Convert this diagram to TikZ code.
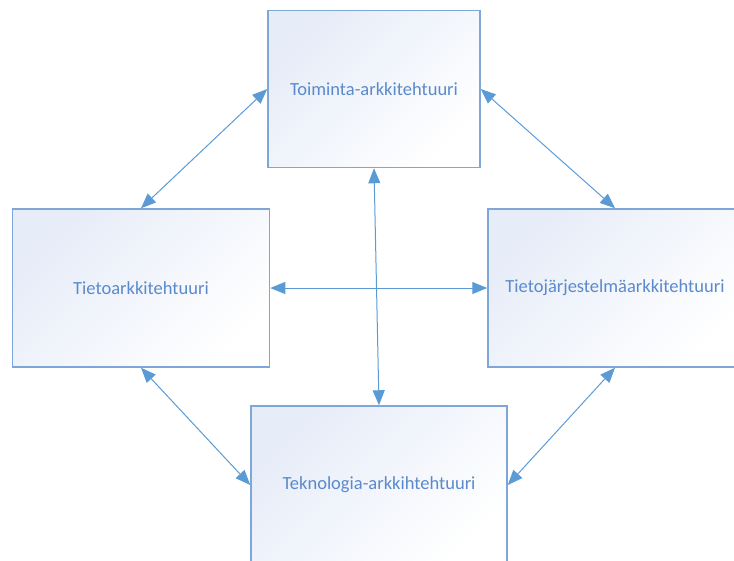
\documentclass[tikz,border=0pt]{standalone}
\usepackage{fontspec}
\setmainfont{Carlito}
\usetikzlibrary{arrows.meta}
\definecolor{boxline}{HTML}{7EA7D8}
\definecolor{boxfill}{HTML}{E6ECF8}
\definecolor{boxmid}{HTML}{F6F8FC}
\definecolor{arrowc}{HTML}{5B9BD5}
\definecolor{textc}{HTML}{5A8ACB}
\tikzset{
  archbox/.style={draw=boxline, line width=1.5pt, rectangle, inner sep=0pt,
    shading=axis, top color=boxfill, middle color=boxmid, bottom color=white, shading angle=45,
    font=\fontsize{18.5}{22}\selectfont, text=textc},
  link/.style={draw=arrowc, line width=1pt,
    {Triangle[length=15pt,width=12pt]}-{Triangle[length=15pt,width=12pt]}}
}
\begin{document}
\begin{tikzpicture}[x=1pt,y=-1pt]
\useasboundingbox (0,0) rectangle (734,560);
\clip (0,0) rectangle (734,560);
\node[archbox, minimum width=212pt, minimum height=157pt] (top) at (374,89) {Toiminta-arkkitehtuuri};
\node[archbox, minimum width=257pt, minimum height=158pt] (left) at (141,288) {Tietoarkkitehtuuri};
\node[archbox, minimum width=254pt, minimum height=158pt] (right) at (615,288) {Tietojärjestelmäarkkitehtuuri};
\node[archbox, minimum width=256pt, minimum height=158pt] (bottom) at (379,485) {Teknologia-arkkihtehtuuri};
\draw[link] (top.west) -- (left.north);
\draw[link] (top.east) -- (right.north);
\draw[link] (top.south) -- (bottom.north);
\draw[link] (left.east) -- (right.west);
\draw[link] (left.south) -- (bottom.west);
\draw[link] (right.south) -- (bottom.east);
\end{tikzpicture}
\end{document}
